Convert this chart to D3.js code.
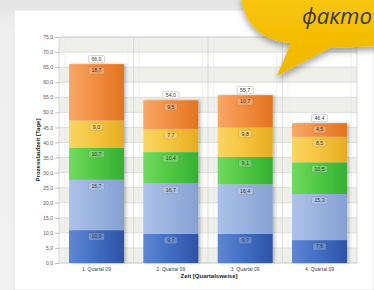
<!DOCTYPE html>
<html><head><meta charset="utf-8">
<script src="https://cdn.jsdelivr.net/npm/d3@7/dist/d3.min.js"></script>
<style>html,body{margin:0;padding:0;background:#fff;overflow:hidden}svg{display:block}</style>
</head><body>
<script>
const categories = ["1. Quartal 09","2. Quartal 09","3. Quartal 09","4. Quartal 09"];
const seriesKeys = ["s1","s2","s3","s4","s5"];
const blueDark  = [10.9, 9.7, 9.7, 7.6];
const blueLight = [16.7, 16.7, 16.4, 15.3];
const green     = [10.7, 10.4, 9.1, 10.5];
const yellow    = [9.0, 7.7, 9.8, 8.5];
const orange    = [18.7, 9.5, 10.7, 4.5];
const yTicks = [0,5,10,15,20,25,30,35,40,45,50,55,60,65,70,75];
const yTitle = "Prozesslaufzeit [Tage]";
const xTitle = "Zeit [Quartalsweise]";
const bubbleText = "факто";

const W = 374, H = 290;
const svg = d3.select("body").append("svg").attr("width", W).attr("height", H);
const defs = svg.append("defs");

const fmt = v => d3.format(".1f")(v).replace(".", ",");

// background
const bg = defs.append("linearGradient").attr("id","bg").attr("x1",0).attr("y1",0).attr("x2",0).attr("y2",1);
bg.append("stop").attr("offset",0).attr("stop-color","#e4e4e4");
bg.append("stop").attr("offset",0.1).attr("stop-color","#efefef");
bg.append("stop").attr("offset",1).attr("stop-color","#f1f1f1");
svg.append("rect").attr("width",W).attr("height",H).attr("fill","url(#bg)");
svg.append("rect").attr("x",14).attr("y",10).attr("width",W-14).attr("height",H-10)
  .attr("fill","#ffffff").attr("stroke","#e2e2e2").attr("stroke-width",1);

// data
const table = categories.map((c,i)=>({cat:c, s1:blueDark[i], s2:blueLight[i], s3:green[i], s4:yellow[i], s5:orange[i]}));
const stacked = d3.stack().keys(seriesKeys)(table);

const x = d3.scaleBand().domain(categories).range([59,357]).paddingInner(0.26).paddingOuter(0.134);
const y = d3.scaleLinear().domain([0,75]).range([263,37]);

const plot = svg.append("g");
// stripes
for (let i=0;i<yTicks.length-1;i++){
  const a=yTicks[i], b=yTicks[i+1];
  plot.append("rect").attr("x",59).attr("width",298).attr("y",y(b)).attr("height",y(a)-y(b))
    .attr("fill", i%2===0 ? "#f0f0ea" : "#ffffff");
}
// horizontal grid
plot.selectAll("line.hg").data(yTicks).join("line").attr("class","hg")
  .attr("x1",59).attr("x2",357).attr("y1",d=>y(d)).attr("y2",d=>y(d))
  .attr("stroke","#d4d4d4").attr("stroke-width",0.8);
// vertical grid at category boundaries
const step = x.step();
const bounds = [];
for (let i=1;i<categories.length;i++){ bounds.push(x(categories[i]) - (step - x.bandwidth())/2); }
plot.selectAll("line.vg").data(bounds).join("line").attr("class","vg")
  .attr("x1",d=>d).attr("x2",d=>d).attr("y1",y(75)).attr("y2",y(0))
  .attr("stroke","#d4d4d4").attr("stroke-width",0.8);
// minor vertical lines
const minor = [];
categories.forEach(c=>{ minor.push(x(c)-4); minor.push(x(c)+x.bandwidth()+4); });
plot.selectAll("line.mg").data(minor).join("line").attr("class","mg")
  .attr("x1",d=>d).attr("x2",d=>d).attr("y1",y(75)).attr("y2",y(0))
  .attr("stroke","#e4e4e4").attr("stroke-width",0.6);
plot.append("rect").attr("x",59).attr("y",y(75)).attr("width",298).attr("height",y(0)-y(75))
  .attr("fill","none").attr("stroke","#cfcfcf").attr("stroke-width",0.8);

// gradients for series
const cols = {
  s1:["#5f86d2","#4470c4","#2c52a6"],
  s2:["#adc2e8","#9bb3df","#85a0d2"],
  s3:["#72da60","#52c944","#36b034"],
  s4:["#fad565","#f5c640","#e6ac22"],
  s5:["#f8a868","#f28e42","#e2741f"]
};
seriesKeys.forEach(k=>{
  const g = defs.append("linearGradient").attr("id","g"+k).attr("x1",0).attr("x2",1).attr("y1",0).attr("y2",0);
  g.append("stop").attr("offset",0).attr("stop-color",cols[k][0]);
  g.append("stop").attr("offset",0.45).attr("stop-color",cols[k][1]);
  g.append("stop").attr("offset",1).attr("stop-color",cols[k][2]);
});

// bar shadow
const sh = defs.append("filter").attr("id","bsh").attr("x","-10%").attr("y","-10%").attr("width","130%").attr("height","120%");
sh.append("feGaussianBlur").attr("in","SourceAlpha").attr("stdDeviation",1.5);
sh.append("feOffset").attr("dx",1.5).attr("dy",0).attr("result","ob");
sh.append("feComponentTransfer").append("feFuncA").attr("type","linear").attr("slope",0.25);
const m = sh.append("feMerge"); m.append("feMergeNode"); m.append("feMergeNode").attr("in","SourceGraphic");

const bars = svg.append("g").attr("filter","url(#bsh)");
stacked.forEach(layer=>{
  bars.selectAll(null).data(layer).join("rect")
    .attr("x",d=>x(d.data.cat)).attr("width",x.bandwidth())
    .attr("y",d=>y(d[1])).attr("height",d=>y(d[0])-y(d[1]))
    .attr("fill","url(#g"+layer.key+")");
});

// segment labels
const lab = svg.append("g").attr("font-family","Liberation Sans, Arial, sans-serif").attr("font-size",5.2);
stacked.forEach(layer=>{
  layer.forEach(d=>{
    const v = d[1]-d[0];
    const cx = x(d.data.cat)+x.bandwidth()/2, cy = y(d[1])+6.5;
    const t = fmt(v);
    const w = t.length*3+4;
    lab.append("rect").attr("x",cx-w/2).attr("y",cy-3.6).attr("width",w).attr("height",7.2).attr("rx",1.5)
      .attr("fill","rgba(255,255,255,0.22)").attr("stroke","rgba(0,0,0,0.18)").attr("stroke-width",0.5);
    lab.append("text").attr("x",cx).attr("y",cy+1.8).attr("text-anchor","middle").attr("fill","#333").text(t);
  });
});
// totals
const topLayer = stacked[stacked.length-1];
topLayer.forEach(d=>{
  const cx = x(d.data.cat)+x.bandwidth()/2, cy = y(d[1])-5;
  const t = fmt(d[1]);
  const w = t.length*3+4;
  lab.append("rect").attr("x",cx-w/2).attr("y",cy-3.6).attr("width",w).attr("height",7.2).attr("rx",1)
    .attr("fill","#fff").attr("stroke","#aaa").attr("stroke-width",0.5);
  lab.append("text").attr("x",cx).attr("y",cy+1.8).attr("text-anchor","middle").attr("fill","#333").text(t);
});

// y axis
const yAxis = svg.append("g").attr("transform","translate(59,0)")
  .call(d3.axisLeft(y).tickValues(yTicks).tickSize(4).tickPadding(2).tickFormat(fmt));
yAxis.select(".domain").remove();
yAxis.selectAll("line").attr("stroke","#999").attr("stroke-width",0.6);
yAxis.selectAll("text").attr("font-family","Liberation Sans, Arial, sans-serif").attr("font-size",5).attr("fill","#555");

// x axis
const xAxis = svg.append("g").attr("transform","translate(0,263)")
  .call(d3.axisBottom(x).tickSize(0).tickPadding(4));
xAxis.select(".domain").remove();
xAxis.selectAll("text").attr("font-family","Liberation Sans, Arial, sans-serif").attr("font-size",5).attr("fill","#444");

svg.append("text").attr("transform","translate(40,150) rotate(-90)").attr("text-anchor","middle")
  .attr("font-family","Liberation Sans, Arial, sans-serif").attr("font-size",6).attr("font-weight","bold").attr("fill","#222").text(yTitle);
svg.append("text").attr("x",209).attr("y",278).attr("text-anchor","middle")
  .attr("font-family","Liberation Sans, Arial, sans-serif").attr("font-size",6).attr("font-weight","bold").attr("fill","#222").text(xTitle);

// speech bubble
const bf = defs.append("filter").attr("id","bubsh").attr("x","-20%").attr("y","-20%").attr("width","140%").attr("height","160%");
bf.append("feGaussianBlur").attr("in","SourceAlpha").attr("stdDeviation",3);
bf.append("feOffset").attr("dx",0).attr("dy",4).attr("result","ob");
bf.append("feComponentTransfer").append("feFuncA").attr("type","linear").attr("slope",0.35);
const bm = bf.append("feMerge"); bm.append("feMergeNode"); bm.append("feMergeNode").attr("in","SourceGraphic");
const bg2 = defs.append("linearGradient").attr("id","bub").attr("x1",0).attr("x2",0).attr("y1",0).attr("y2",1);
bg2.append("stop").attr("offset",0).attr("stop-color","#f9c60a");
bg2.append("stop").attr("offset",1).attr("stop-color","#efb600");
svg.append("path")
  .attr("d","M241,-6 C242,22 261,41 291,43 L277,76 L330,48 L380,46 L380,-6 Z")
  .attr("fill","url(#bub)").attr("filter","url(#bubsh)");
svg.append("text").attr("x",302).attr("y",24)
  .attr("font-family","Open Sans, sans-serif").attr("font-style","italic").attr("font-size",22)
  .attr("textLength",70).attr("lengthAdjust","spacingAndGlyphs")
  .attr("fill","#3a3a3a").text(bubbleText);
</script>
</body></html>
